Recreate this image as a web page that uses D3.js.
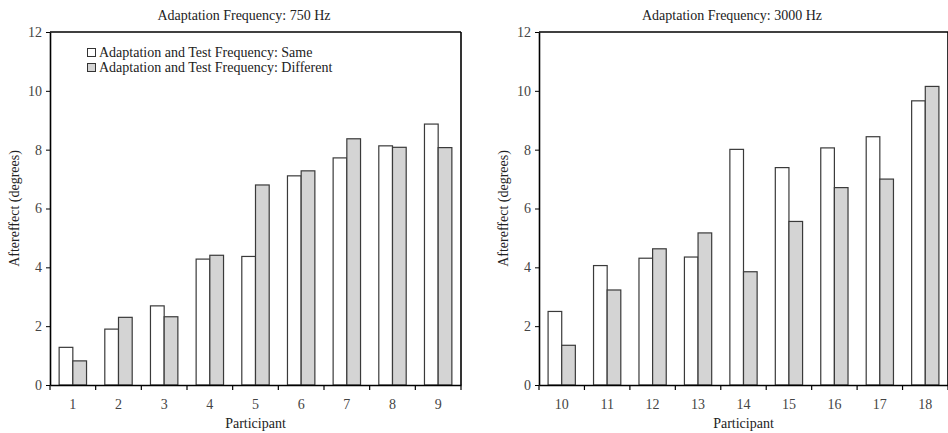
<!DOCTYPE html>
<html><head><meta charset="utf-8">
<script src="https://cdn.jsdelivr.net/npm/d3@7"></script>
<style>body{margin:0;background:#fff}svg{display:block}</style>
</head><body><svg id="c" width="948" height="433"></svg>
<script>
const participantsA = ["1","2","3","4","5","6","7","8","9"];
const sameA = [1.28,1.90,2.69,4.28,4.37,7.11,7.72,8.13,8.87];
const diffA = [0.82,2.30,2.32,4.41,6.80,7.28,8.37,8.08,8.07];
const participantsB = ["10","11","12","13","14","15","16","17","18"];
const sameB = [2.50,4.06,4.31,4.35,8.01,7.39,8.06,8.44,9.66];
const diffB = [1.35,3.23,4.63,5.17,3.85,5.56,6.71,7.00,10.15];
const titles = ["Adaptation Frequency: 750 Hz","Adaptation Frequency: 3000 Hz"];
const seriesNames = ["Adaptation and Test Frequency: Same","Adaptation and Test Frequency: Different"];
const yTicks = [0,2,4,6,8,10,12];
const colors = ["#ffffff","#d4d4d4"];
const FONT = '"Liberation Serif"';
const FS = 14;

const svg = d3.select("#c");
const panels = [
  {cats:participantsA, s:[sameA,diffA], x0:50, x1:461, title:titles[0], tx:244, ylx:19, legend:true},
  {cats:participantsB, s:[sameB,diffB], x0:539, x1:948, title:titles[1], tx:732, ylx:508, legend:false}
];
const yTop=32, yBot=385;
const y = d3.scaleLinear().domain([0,12]).range([yBot,yTop]);

function txt(sel){ return sel.style("font-family",FONT).attr("font-size",FS).attr("fill","#222"); }

panels.forEach(p=>{
  const g = svg.append("g");
  const xs = d3.scaleBand().domain(p.cats).range([p.x0,p.x1]).padding(0);
  const inner = d3.scaleBand().domain([0,1]).range([xs.bandwidth()*0.2, xs.bandwidth()*0.8]);
  p.cats.forEach((c,i)=>{
    [0,1].forEach(k=>{
      const v=p.s[k][i];
      g.append("rect").attr("x",xs(c)+inner(k)).attr("y",y(v))
        .attr("width",inner.bandwidth()).attr("height",y(0)-y(v))
        .attr("fill",colors[k]).attr("stroke","#3a3a3a").attr("stroke-width",1.2);
    });
  });
  g.append("line").attr("x1",p.x0).attr("x2",p.x1).attr("y1",yTop).attr("y2",yTop).attr("stroke","#000").attr("stroke-width",1.6);
  g.append("line").attr("x1",p.x1).attr("x2",p.x1).attr("y1",yTop).attr("y2",yBot).attr("stroke","#000").attr("stroke-width",1.6);
  const ya = g.append("g").attr("transform",`translate(${p.x0},0)`).call(d3.axisLeft(y).tickValues(yTicks).tickSize(4).tickPadding(4).tickSizeOuter(0));
  ya.select(".domain").attr("stroke","#000").attr("stroke-width",1.6);
  ya.selectAll(".tick line").attr("stroke","#000");
  txt(ya.selectAll("text")).attr("fill","#444");
  const xa = g.append("g").attr("transform",`translate(0,${yBot})`).call(d3.axisBottom(xs).tickSize(0).tickPadding(14).tickSizeOuter(0));
  xa.select(".domain").attr("stroke","#000").attr("stroke-width",1.6);
  txt(xa.selectAll("text")).attr("fill","#444");
  const bounds = p.cats.map(c=>xs(c)).concat([p.x1]);
  g.selectAll(".bt").data(bounds).enter().append("line").attr("x1",d=>d).attr("x2",d=>d)
    .attr("y1",yBot).attr("y2",yBot+5).attr("stroke","#000").attr("stroke-width",1.2);
  txt(g.append("text").attr("x",p.tx).attr("y",20).attr("text-anchor","middle").text(p.title));
  txt(g.append("text").attr("x",(p.x0+p.x1)/2).attr("y",428).attr("text-anchor","middle").text("Participant"));
  txt(g.append("text").attr("transform",`translate(${p.ylx},${(yTop+yBot)/2}) rotate(-90)`).attr("text-anchor","middle").text("Aftereffect (degrees)"));
  if(p.legend){
    seriesNames.forEach((n,k)=>{
      g.append("rect").attr("x",87.5).attr("y",48.5+k*15).attr("width",8).attr("height",8)
        .attr("fill",colors[k]).attr("stroke","#333").attr("stroke-width",1);
      txt(g.append("text").attr("x",99).attr("y",57+k*15).text(n));
    });
  }
});
</script></body></html>
